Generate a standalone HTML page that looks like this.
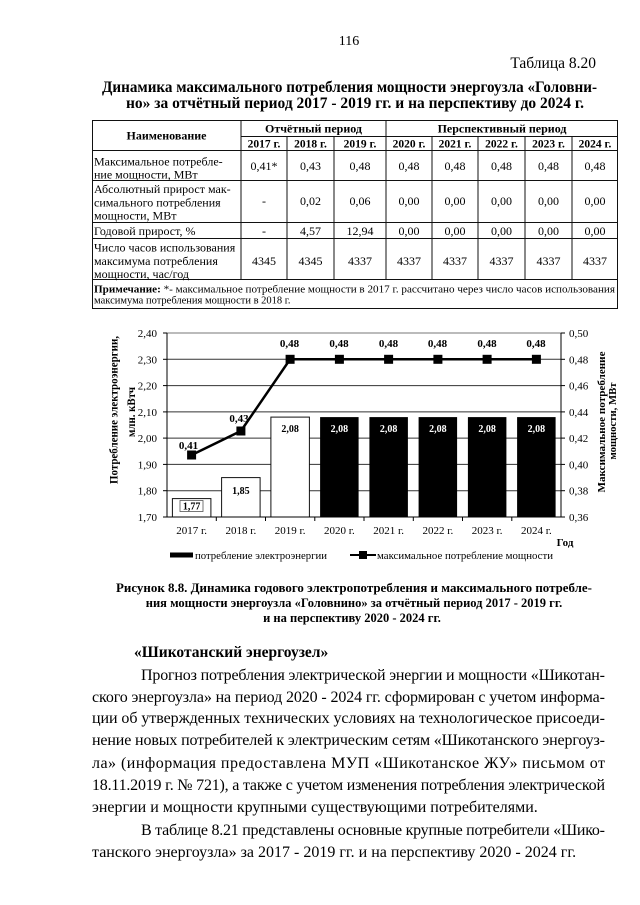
<!DOCTYPE html>
<html>
<head>
<meta charset="utf-8">
<style>
  html, body { margin:0; padding:0; background:#fff; }
  body { width:640px; height:905px; overflow:hidden; }
  svg { display:block; }
  text { font-family: "Liberation Serif", "DejaVu Serif", serif; fill:#000; }
  .b { font-weight:bold; }
</style>
</head>
<body>
<svg width="640" height="905" viewBox="0 0 640 905" xmlns="http://www.w3.org/2000/svg">
  <rect x="0" y="0" width="640" height="905" fill="#fff"/>

  <!-- Page header -->
  <text x="349" y="45" font-size="14" text-anchor="middle">116</text>
  <text x="596" y="68" font-size="15.5" text-anchor="end">Таблица 8.20</text>
  <text class="b" x="102" y="92" font-size="15.5" textLength="495" lengthAdjust="spacingAndGlyphs">Динамика максимального потребления мощности энергоузла «Головни-</text>
  <text class="b" x="355" y="108" font-size="15.5" text-anchor="middle" textLength="458" lengthAdjust="spacingAndGlyphs">но» за отчётный период 2017 - 2019 гг. и на перспективу до 2024 г.</text>

  <!-- Table lines -->
  <g stroke="#111" stroke-width="1" fill="none">
    <line x1="92" y1="120.5" x2="618" y2="120.5"/>
    <line x1="241" y1="136.5" x2="618" y2="136.5"/>
    <line x1="92" y1="150.5" x2="618" y2="150.5"/>
    <line x1="92" y1="180.5" x2="618" y2="180.5"/>
    <line x1="92" y1="222.5" x2="618" y2="222.5"/>
    <line x1="92" y1="238.5" x2="618" y2="238.5"/>
    <line x1="92" y1="279.5" x2="618" y2="279.5"/>
    <line x1="92" y1="308.5" x2="618" y2="308.5"/>
    <line x1="92.5" y1="120" x2="92.5" y2="309"/>
    <line x1="617.5" y1="120" x2="617.5" y2="309"/>
    <line x1="241" y1="120" x2="241" y2="280"/>
    <line x1="386" y1="120" x2="386" y2="280"/>
    <line x1="287" y1="136" x2="287" y2="280"/>
    <line x1="334" y1="136" x2="334" y2="280"/>
    <line x1="432" y1="136" x2="432" y2="280"/>
    <line x1="478" y1="136" x2="478" y2="280"/>
    <line x1="525" y1="136" x2="525" y2="280"/>
    <line x1="572" y1="136" x2="572" y2="280"/>
  </g>

  <!-- Table header -->
  <g class="b" font-size="12" text-anchor="middle">
    <text class="b" x="166.5" y="139.5">Наименование</text>
    <text class="b" x="313.5" y="132.5">Отчётный период</text>
    <text class="b" x="502" y="132.5">Перспективный период</text>
    <text class="b" x="264" y="147.5" font-size="11.5">2017 г.</text>
    <text class="b" x="310.5" y="147.5" font-size="11.5">2018 г.</text>
    <text class="b" x="360" y="147.5" font-size="11.5">2019 г.</text>
    <text class="b" x="409" y="147.5" font-size="11.5">2020 г.</text>
    <text class="b" x="455" y="147.5" font-size="11.5">2021 г.</text>
    <text class="b" x="501.5" y="147.5" font-size="11.5">2022 г.</text>
    <text class="b" x="548.5" y="147.5" font-size="11.5">2023 г.</text>
    <text class="b" x="595" y="147.5" font-size="11.5">2024 г.</text>
  </g>

  <!-- Table body left column -->
  <g font-size="12">
    <text x="94" y="165.5">Максимальное потребле-</text>
    <text x="94" y="178.5">ние мощности, МВт</text>
    <text x="94" y="193">Абсолютный прирост мак-</text>
    <text x="94" y="206.5">симального потребления</text>
    <text x="94" y="219.5">мощности, МВт</text>
    <text x="94" y="235">Годовой прирост, %</text>
    <text x="94" y="251.5">Число часов использования</text>
    <text x="94" y="265">максимума потребления</text>
    <text x="94" y="278">мощности, час/год</text>
  </g>

  <!-- Table values -->
  <g font-size="12" text-anchor="middle">
    <text x="264" y="170">0,41*</text>
    <text x="310.5" y="170">0,43</text>
    <text x="360" y="170">0,48</text>
    <text x="409" y="170">0,48</text>
    <text x="455" y="170">0,48</text>
    <text x="501.5" y="170">0,48</text>
    <text x="548.5" y="170">0,48</text>
    <text x="595" y="170">0,48</text>

    <text x="264" y="205">-</text>
    <text x="310.5" y="205">0,02</text>
    <text x="360" y="205">0,06</text>
    <text x="409" y="205">0,00</text>
    <text x="455" y="205">0,00</text>
    <text x="501.5" y="205">0,00</text>
    <text x="548.5" y="205">0,00</text>
    <text x="595" y="205">0,00</text>

    <text x="264" y="235">-</text>
    <text x="310.5" y="235">4,57</text>
    <text x="360" y="235">12,94</text>
    <text x="409" y="235">0,00</text>
    <text x="455" y="235">0,00</text>
    <text x="501.5" y="235">0,00</text>
    <text x="548.5" y="235">0,00</text>
    <text x="595" y="235">0,00</text>

    <text x="264" y="265">4345</text>
    <text x="310.5" y="265">4345</text>
    <text x="360" y="265">4337</text>
    <text x="409" y="265">4337</text>
    <text x="455" y="265">4337</text>
    <text x="501.5" y="265">4337</text>
    <text x="548.5" y="265">4337</text>
    <text x="595" y="265">4337</text>
  </g>

  <!-- Note -->
  <text x="94" y="292.5" font-size="10.5" textLength="521" lengthAdjust="spacingAndGlyphs"><tspan font-weight="bold">Примечание:</tspan> *- максимальное потребление мощности в 2017 г. рассчитано через число часов использования</text>
  <text x="94" y="303.5" font-size="10.5">максимума потребления мощности в 2018 г.</text>

  <!-- ============ CHART ============ -->
  <g stroke="#333" stroke-width="1">
    <line x1="167" y1="490.7" x2="561" y2="490.7"/>
    <line x1="167" y1="464.4" x2="561" y2="464.4"/>
    <line x1="167" y1="438.1" x2="561" y2="438.1"/>
    <line x1="167" y1="411.9" x2="561" y2="411.9"/>
    <line x1="167" y1="385.6" x2="561" y2="385.6"/>
    <line x1="167" y1="359.3" x2="561" y2="359.3"/>
  </g>
  <line x1="167" y1="333" x2="561" y2="333" stroke="#777" stroke-width="1"/>

  <!-- bars -->
  <g stroke="#111" stroke-width="1">
    <rect x="172.4" y="498.6" width="38.5" height="18.4" fill="#fff"/>
    <rect x="221.6" y="477.6" width="38.5" height="39.4" fill="#fff"/>
    <rect x="270.9" y="417.1" width="38.5" height="99.9" fill="#fff"/>
  </g>
  <g fill="#000">
    <rect x="320.1" y="417.1" width="38.5" height="99.9"/>
    <rect x="369.4" y="417.1" width="38.5" height="99.9"/>
    <rect x="418.6" y="417.1" width="38.5" height="99.9"/>
    <rect x="467.9" y="417.1" width="38.5" height="99.9"/>
    <rect x="517.1" y="417.1" width="38.5" height="99.9"/>
  </g>

  <!-- bar labels -->
  <g class="b" font-size="10" text-anchor="middle">
    <rect x="180" y="500.5" width="23" height="11" fill="none" stroke="#555" stroke-width="0.8"/>
    <text class="b" x="191.6" y="509.5">1,77</text>
    <text class="b" x="240.9" y="494">1,85</text>
    <text class="b" x="290.1" y="432">2,08</text>
    <text class="b" x="339.4" y="432" style="fill:#fff">2,08</text>
    <text class="b" x="388.6" y="432" style="fill:#fff">2,08</text>
    <text class="b" x="437.9" y="432" style="fill:#fff">2,08</text>
    <text class="b" x="487.1" y="432" style="fill:#fff">2,08</text>
    <text class="b" x="536.4" y="432" style="fill:#fff">2,08</text>
  </g>

  <!-- axes -->
  <g stroke="#000" stroke-width="1">
    <line x1="167" y1="333" x2="167" y2="517"/>
    <line x1="561" y1="333" x2="561" y2="517"/>
    <line x1="167" y1="517" x2="561" y2="517"/>
    <line x1="163" y1="333" x2="167" y2="333"/>
    <line x1="163" y1="359.3" x2="167" y2="359.3"/>
    <line x1="163" y1="385.6" x2="167" y2="385.6"/>
    <line x1="163" y1="411.9" x2="167" y2="411.9"/>
    <line x1="163" y1="438.1" x2="167" y2="438.1"/>
    <line x1="163" y1="464.4" x2="167" y2="464.4"/>
    <line x1="163" y1="490.7" x2="167" y2="490.7"/>
    <line x1="163" y1="517" x2="167" y2="517"/>
    <line x1="561" y1="333" x2="565" y2="333"/>
    <line x1="561" y1="359.3" x2="565" y2="359.3"/>
    <line x1="561" y1="385.6" x2="565" y2="385.6"/>
    <line x1="561" y1="411.9" x2="565" y2="411.9"/>
    <line x1="561" y1="438.1" x2="565" y2="438.1"/>
    <line x1="561" y1="464.4" x2="565" y2="464.4"/>
    <line x1="561" y1="490.7" x2="565" y2="490.7"/>
    <line x1="561" y1="517" x2="565" y2="517"/>
    <line x1="216.3" y1="517" x2="216.3" y2="521"/>
    <line x1="265.5" y1="517" x2="265.5" y2="521"/>
    <line x1="314.8" y1="517" x2="314.8" y2="521"/>
    <line x1="364" y1="517" x2="364" y2="521"/>
    <line x1="413.3" y1="517" x2="413.3" y2="521"/>
    <line x1="462.5" y1="517" x2="462.5" y2="521"/>
    <line x1="511.8" y1="517" x2="511.8" y2="521"/>
  </g>

  <!-- line series -->
  <polyline points="191.6,455 240.9,431 290.1,359.3 339.4,359.3 388.6,359.3 437.9,359.3 487.1,359.3 536.4,359.3" fill="none" stroke="#000" stroke-width="2.5"/>
  <g fill="#000">
    <rect x="187.1" y="450.5" width="9" height="9"/>
    <rect x="236.4" y="426.5" width="9" height="9"/>
    <rect x="285.6" y="354.8" width="9" height="9"/>
    <rect x="334.9" y="354.8" width="9" height="9"/>
    <rect x="384.1" y="354.8" width="9" height="9"/>
    <rect x="433.4" y="354.8" width="9" height="9"/>
    <rect x="482.6" y="354.8" width="9" height="9"/>
    <rect x="531.9" y="354.8" width="9" height="9"/>
  </g>
  <g class="b" font-size="11" text-anchor="middle">
    <text class="b" x="188.5" y="449">0,41</text>
    <text class="b" x="239" y="422">0,43</text>
    <text class="b" x="289.5" y="347">0,48</text>
    <text class="b" x="339" y="347">0,48</text>
    <text class="b" x="388.5" y="347">0,48</text>
    <text class="b" x="437.5" y="347">0,48</text>
    <text class="b" x="487" y="347">0,48</text>
    <text class="b" x="536" y="347">0,48</text>
  </g>

  <!-- left tick labels -->
  <g font-size="11" text-anchor="end">
    <text x="157" y="337">2,40</text>
    <text x="157" y="363.3">2,30</text>
    <text x="157" y="389.6">2,20</text>
    <text x="157" y="415.9">2,10</text>
    <text x="157" y="442.1">2,00</text>
    <text x="157" y="468.4">1,90</text>
    <text x="157" y="494.7">1,80</text>
    <text x="157" y="521">1,70</text>
  </g>
  <g font-size="11">
    <text x="569" y="337">0,50</text>
    <text x="569" y="363.3">0,48</text>
    <text x="569" y="389.6">0,46</text>
    <text x="569" y="415.9">0,44</text>
    <text x="569" y="442.1">0,42</text>
    <text x="569" y="468.4">0,40</text>
    <text x="569" y="494.7">0,38</text>
    <text x="569" y="521">0,36</text>
  </g>

  <!-- x labels -->
  <g font-size="11" text-anchor="middle">
    <text x="191.6" y="534">2017 г.</text>
    <text x="240.9" y="534">2018 г.</text>
    <text x="290.1" y="534">2019 г.</text>
    <text x="339.4" y="534">2020 г.</text>
    <text x="388.6" y="534">2021 г.</text>
    <text x="437.9" y="534">2022 г.</text>
    <text x="487.1" y="534">2023 г.</text>
    <text x="536.4" y="534">2024 г.</text>
  </g>
  <text class="b" x="565" y="546" font-size="11" text-anchor="middle">Год</text>

  <!-- axis titles -->
  <text class="b" x="117.5" y="410" font-size="11.5" text-anchor="middle" transform="rotate(-90 117.5 410)" textLength="148" lengthAdjust="spacingAndGlyphs">Потребление электроэнергии,</text>
  <text class="b" x="135" y="412" font-size="11.5" text-anchor="middle" transform="rotate(-90 135 412)" textLength="50" lengthAdjust="spacingAndGlyphs">млн. кВтч</text>
  <text class="b" x="605" y="422" font-size="10.5" text-anchor="middle" transform="rotate(-90 605 422)" textLength="141" lengthAdjust="spacingAndGlyphs">Максимальное потребление</text>
  <text class="b" x="616" y="421" font-size="10.5" text-anchor="middle" transform="rotate(-90 616 421)" textLength="77" lengthAdjust="spacingAndGlyphs">мощности, МВт</text>

  <!-- legend -->
  <rect x="170" y="552.5" width="23" height="5" fill="#000"/>
  <text x="195" y="559" font-size="10.5" textLength="132" lengthAdjust="spacingAndGlyphs">потребление электроэнергии</text>
  <line x1="350" y1="555" x2="376" y2="555" stroke="#000" stroke-width="2"/>
  <rect x="359" y="551" width="8" height="8" fill="#000"/>
  <text x="377" y="559" font-size="10.5" textLength="176" lengthAdjust="spacingAndGlyphs">максимальное потребление мощности</text>

  <!-- Caption -->
  <text class="b" x="116" y="592" font-size="12.5" textLength="476" lengthAdjust="spacingAndGlyphs">Рисунок 8.8. Динамика годового электропотребления и максимального потребле-</text>
  <text class="b" x="354" y="607" font-size="12.5" text-anchor="middle">ния мощности энергоузла «Головнино» за отчётный период 2017 - 2019 гг.</text>
  <text class="b" x="352" y="622" font-size="12.5" text-anchor="middle">и на перспективу 2020 - 2024 гг.</text>

  <!-- Section heading -->
  <text class="b" x="134" y="657" font-size="15.5">«Шикотанский энергоузел»</text>

  <!-- Body text -->
  <g font-size="16">
    <text x="141" y="680" textLength="464" lengthAdjust="spacing">Прогноз потребления электрической энергии и мощности «Шикотан-</text>
    <text x="92" y="702" textLength="513" lengthAdjust="spacing">ского энергоузла» на период 2020 - 2024 гг. сформирован с учетом информа-</text>
    <text x="92" y="723" textLength="513" lengthAdjust="spacing">ции об утвержденных технических условиях на технологическое присоеди-</text>
    <text x="92" y="745" textLength="513" lengthAdjust="spacing">нение новых потребителей к электрическим сетям «Шикотанского энергоуз-</text>
    <text x="92" y="768" textLength="513" lengthAdjust="spacing">ла» (информация предоставлена МУП «Шикотанское ЖУ» письмом от</text>
    <text x="92" y="790" textLength="513" lengthAdjust="spacing">18.11.2019 г. № 721), а также с учетом изменения потребления электрической</text>
    <text x="92" y="812">энергии и мощности крупными существующими потребителями.</text>
    <text x="141" y="835" textLength="464" lengthAdjust="spacing">В таблице 8.21 представлены основные крупные потребители «Шико-</text>
    <text x="92" y="857">танского энергоузла» за 2017 - 2019 гг. и на перспективу 2020 - 2024 гг.</text>
  </g>
</svg>
</body>
</html>
